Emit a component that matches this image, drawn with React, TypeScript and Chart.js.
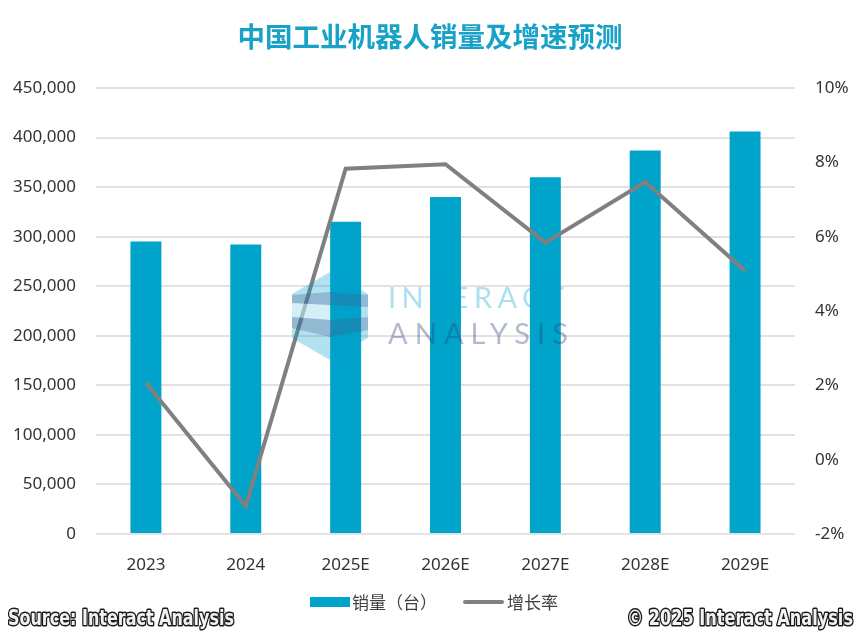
import React, { useEffect, useRef } from "react";
import { Chart, registerables } from "chart.js";

Chart.register(...registerables);

const categories = ["2023", "2024", "2025E", "2026E", "2027E", "2028E", "2029E"];
const salesUnits = [295000, 292000, 315000, 340000, 360000, 387000, 406000];
const growthRate = [2.07, -1.25, 7.83, 7.95, 5.84, 7.47, 5.08];
const leftTicks = { min: 0, max: 450000, step: 50000 };
const rightTicks = { min: -2, max: 10, step: 2 };

const TITLE = "中国工业机器人销量及增速预测";
const SALES_LABEL = "销量（台）";
const GROWTH_LABEL = "增长率";
const SOURCE = "Source: Interact Analysis";
const COPYRIGHT = "© 2025 Interact Analysis";

const BAR_COLOR = "#00a4cb";
const LINE_COLOR = "#808080";
const TEXT_COLOR = "#333333";
const TICK_FONT = { family: "'Noto Sans', sans-serif", size: 17 };

export default function App() {
  const canvasRef = useRef<HTMLCanvasElement | null>(null);

  useEffect(() => {
    if (!canvasRef.current) return;
    const chart = new Chart(canvasRef.current, {
      type: "bar",
      data: {
        labels: categories,
        datasets: [
          {
            type: "line",
            label: GROWTH_LABEL,
            data: growthRate,
            yAxisID: "y1",
            borderColor: LINE_COLOR,
            backgroundColor: LINE_COLOR,
            borderWidth: 4,
            pointRadius: 0,
            tension: 0,
            order: 0,
          } as any,
          {
            type: "bar",
            label: SALES_LABEL,
            data: salesUnits,
            yAxisID: "y",
            backgroundColor: BAR_COLOR,
            borderWidth: 0,
            barPercentage: 0.31,
            categoryPercentage: 1,
            order: 1,
          } as any,
        ],
      },
      options: {
        responsive: false,
        animation: false,
        layout: { padding: { top: 88, bottom: 0, left: 0, right: 0 } },
        plugins: {
          legend: { display: false },
          title: { display: false },
          tooltip: { enabled: false },
        },
        font: TICK_FONT,
        scales: {
          x: {
            grid: { display: false },
            border: { display: false },
            ticks: {
              color: TEXT_COLOR,
              font: TICK_FONT,
              padding: 13,
              maxRotation: 0,
            },
            afterFit: (scale: any) => {
              scale.height = 98;
            },
          },
          y: {
            position: "left",
            min: leftTicks.min,
            max: leftTicks.max,
            grid: { color: "#e6e1e1", lineWidth: 2, drawTicks: false },
            border: { display: false },
            ticks: {
              stepSize: leftTicks.step,
              color: TEXT_COLOR,
              font: TICK_FONT,
              padding: 20,
              callback: (v: any) => Number(v).toLocaleString("en-US"),
            },
            afterFit: (scale: any) => {
              scale.width = 96;
            },
          },
          y1: {
            position: "right",
            min: rightTicks.min,
            max: rightTicks.max,
            grid: { display: false, drawTicks: false },
            border: { display: false },
            ticks: {
              stepSize: rightTicks.step,
              color: TEXT_COLOR,
              font: TICK_FONT,
              padding: 20,
              callback: (v: any) => `${Math.round(Number(v))}%`,
            },
            afterFit: (scale: any) => {
              scale.width = 69;
            },
          },
        },
      } as any,
    });
    return () => chart.destroy();
  }, []);

  const hexPts = "330,272 368,294 368,338 330,360 292,338 292,294";

  return (
    <div
      style={{
        position: "absolute",
        left: 0,
        top: 0,
        width: 864,
        height: 632,
        background: "#ffffff",
        overflow: "hidden",
      }}
    >
      <canvas
        ref={canvasRef}
        width={864}
        height={632}
        style={{ position: "absolute", left: 0, top: 0, width: 864, height: 632 }}
      />
      <div
        style={{
          position: "absolute",
          left: 0,
          top: 22,
          width: 860,
          textAlign: "center",
          fontFamily: "'Noto Sans CJK SC', sans-serif",
          fontWeight: 700,
          fontSize: 27.5,
          lineHeight: 1,
          color: "#18a2c8",
        }}
      >
        {TITLE}
      </div>
      {/* legend */}
      <div
        style={{
          position: "absolute",
          left: 310,
          top: 597,
          width: 40,
          height: 10,
          background: BAR_COLOR,
        }}
      />
      <div
        style={{
          position: "absolute",
          left: 352,
          top: 592,
          fontFamily: "'Noto Sans CJK SC', sans-serif",
          fontSize: 17,
          lineHeight: "20px",
          color: "#404040",
          whiteSpace: "nowrap",
        }}
      >
        {SALES_LABEL}
      </div>
      <div
        style={{
          position: "absolute",
          left: 463,
          top: 600,
          width: 41,
          height: 4,
          borderRadius: 2,
          background: LINE_COLOR,
        }}
      />
      <div
        style={{
          position: "absolute",
          left: 507,
          top: 592,
          fontFamily: "'Noto Sans CJK SC', sans-serif",
          fontSize: 17,
          lineHeight: "20px",
          color: "#404040",
          whiteSpace: "nowrap",
        }}
      >
        {GROWTH_LABEL}
      </div>
      <svg
        width={864}
        height={632}
        style={{ position: "absolute", left: 0, top: 0, pointerEvents: "none" }}
      >
        {/* watermark */}
        <polygon points={hexPts} fill="rgba(0,160,205,0.30)" />
        <polygon points="292,303 330,305 330,320 292,317" fill="rgba(255,255,255,0.45)" />
        <polygon
          points="292,295 330,292 368,295 368,307 330,305 292,303"
          fill="rgba(70,85,140,0.30)"
        />
        <polygon
          points="292,317 330,320 368,317 368,330 330,337 292,328"
          fill="rgba(70,85,140,0.30)"
        />
        <text
          x={388}
          y={308}
          fontFamily="Lato, sans-serif"
          fontWeight={400}
          fontSize={29}
          textLength={176}
          lengthAdjust="spacing"
          fill="rgba(0,160,205,0.32)"
        >
          INTERACT
        </text>
        <text
          x={388}
          y={344}
          fontFamily="Lato, sans-serif"
          fontWeight={400}
          fontSize={29}
          textLength={180}
          lengthAdjust="spacing"
          fill="rgba(40,65,120,0.36)"
        >
          ANALYSIS
        </text>
        {/* footer */}
        <text
          x={8}
          y={625}
          fontFamily="'Liberation Sans Narrow', 'DejaVu Sans Condensed', sans-serif"
          fontWeight={700}
          fontSize={21}
          textLength={226}
          lengthAdjust="spacingAndGlyphs"
          fill="#f2f2f2"
          stroke="#1a1a1a"
          strokeWidth={3}
          strokeLinejoin="round"
          style={{ paintOrder: "stroke" }}
        >
          {SOURCE}
        </text>
        <text
          x={627}
          y={625}
          fontFamily="'Liberation Sans Narrow', 'DejaVu Sans Condensed', sans-serif"
          fontWeight={700}
          fontSize={21}
          textLength={226}
          lengthAdjust="spacingAndGlyphs"
          fill="#f2f2f2"
          stroke="#1a1a1a"
          strokeWidth={3}
          strokeLinejoin="round"
          style={{ paintOrder: "stroke" }}
        >
          {COPYRIGHT}
        </text>
      </svg>
    </div>
  );
}
